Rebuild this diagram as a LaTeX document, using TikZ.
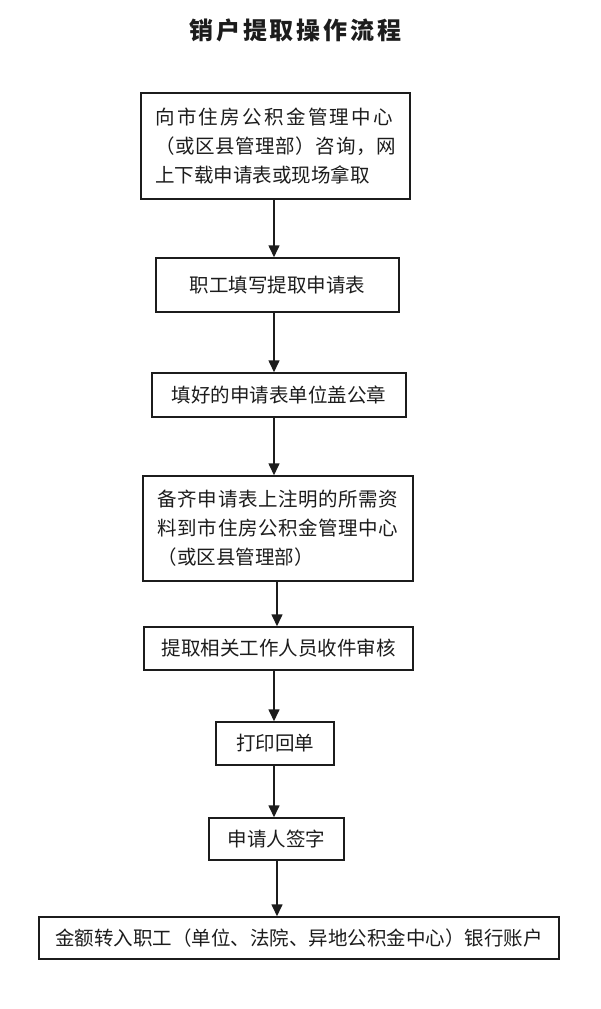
\documentclass[tikz,border=0pt]{standalone}
\usepackage{fontspec}
\usetikzlibrary{arrows.meta}
\newfontfamily\cjk{Noto Sans CJK SC}
\newfontfamily\cjkwide[LetterSpace=12]{Noto Sans CJK SC}
\newfontfamily\cjkmid[LetterSpace=3]{Noto Sans CJK SC}
\newfontfamily\cjktitle[LetterSpace=12]{Noto Sans CJK SC}
\definecolor{ink}{RGB}{28,28,28}
\tikzset{
  stepbox/.style={draw=ink, line width=1.125pt, inner sep=0pt, align=center,
    text=ink, font=\cjk\fontsize{14.625pt}{21.75pt}\selectfont},
  flow/.style={draw=ink, line width=1.2pt,
    -{Triangle[length=9pt,width=8.25pt]}},
}
\begin{document}
\begin{tikzpicture}[x=0.75pt, y=-0.75pt]
\useasboundingbox (0,0) rectangle (600,1009);
\fill[white] (0,0) rectangle (600,1009);
\node[anchor=west, inner sep=0pt, text=ink, font=\cjktitle\bfseries\fontsize{18pt}{21pt}\selectfont] (title) at (189,30) {销户提取操作流程};
\coordinate (xa) at (274,0);
\coordinate (xb) at (277,0);
\node[stepbox, minimum width=201.75pt, minimum height=79.5pt, align=left] (b1) at (275.5,146)
  {{\cjkwide 向市住房公积金管理中心}\\{\cjkmid （或区县管理部）咨询，网}\\上下载申请表或现场拿取};
\node[stepbox, minimum width=182.25pt, minimum height=40.5pt] (b2) at (277.5,285) {职工填写提取申请表};
\node[stepbox, minimum width=190.5pt, minimum height=33pt] (b3) at (279,395) {填好的申请表单位盖公章};
\node[stepbox, minimum width=202.5pt, minimum height=78.75pt, align=left] (b4) at (278,528.5)
  {{\cjkmid 备齐申请表上注明的所需资}\\{\cjkmid 料到市住房公积金管理中心}\\（或区县管理部）};
\node[stepbox, minimum width=201.75pt, minimum height=32.25pt] (b5) at (278.5,648.5) {提取相关工作人员收件审核};
\node[stepbox, minimum width=88.5pt, minimum height=32.25pt] (b6) at (275,743.5) {打印回单};
\node[stepbox, minimum width=101.25pt, minimum height=31.5pt] (b7) at (276.5,839) {申请人签字};
\node[stepbox, minimum width=390pt, minimum height=31.5pt] (b8) at (299,938) {金额转入职工（单位、法院、异地公积金中心）银行账户};
\draw[flow] (b1.south -| xa) -- (b2.north -| xa);
\draw[flow] (b2.south -| xa) -- (b3.north -| xa);
\draw[flow] (b3.south -| xa) -- (b4.north -| xa);
\draw[flow] (b4.south -| xb) -- (b5.north -| xb);
\draw[flow] (b5.south -| xa) -- (b6.north -| xa);
\draw[flow] (b6.south -| xa) -- (b7.north -| xa);
\draw[flow] (b7.south -| xb) -- (b8.north -| xb);
\end{tikzpicture}
\end{document}
